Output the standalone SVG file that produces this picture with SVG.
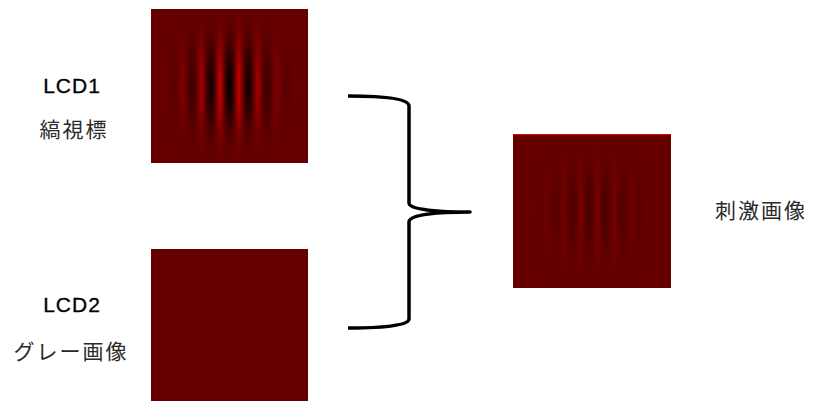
<svg xmlns="http://www.w3.org/2000/svg" width="813" height="401" viewBox="0 0 813 401">
<style>
.bg{fill:#660000}
.lat{font-family:"Liberation Sans",Arial,sans-serif;font-size:21px;fill:#000;text-anchor:middle;letter-spacing:1px;stroke:#000;stroke-width:0.3}
.jp{font-family:"Noto Sans CJK JP","Noto Sans",sans-serif;font-size:21px;fill:#2a2a2a;text-anchor:middle;letter-spacing:2px}
.brace{fill:none;stroke:#000;stroke-width:3.5;stroke-linecap:butt;stroke-linejoin:round}
</style>
<defs>
<linearGradient id="str1" gradientUnits="userSpaceOnUse" x1="229.5" y1="0" x2="248.5" y2="0" spreadMethod="repeat">
<stop offset="0" stop-color="#000000"/>
<stop offset="0.15" stop-color="#1e0000"/>
<stop offset="0.3" stop-color="#6a0000"/>
<stop offset="0.5" stop-color="#d00000"/>
<stop offset="0.7" stop-color="#6a0000"/>
<stop offset="0.85" stop-color="#1e0000"/>
<stop offset="1" stop-color="#000000"/>
</linearGradient>
<linearGradient id="str2" gradientUnits="userSpaceOnUse" x1="589" y1="0" x2="606" y2="0" spreadMethod="repeat">
<stop offset="0" stop-color="#460000"/>
<stop offset="0.25" stop-color="#580000"/>
<stop offset="0.5" stop-color="#800000"/>
<stop offset="0.75" stop-color="#580000"/>
<stop offset="1" stop-color="#460000"/>
</linearGradient>
<radialGradient id="env1" gradientUnits="userSpaceOnUse" cx="229.5" cy="86" r="72" gradientTransform="translate(229.5 86) scale(1 1.05) translate(-229.5 -86)">
<stop offset="0" stop-color="#fff" stop-opacity="1"/>
<stop offset="0.2" stop-color="#fff" stop-opacity="0.88"/>
<stop offset="0.4" stop-color="#fff" stop-opacity="0.6"/>
<stop offset="0.6" stop-color="#fff" stop-opacity="0.3"/>
<stop offset="0.8" stop-color="#fff" stop-opacity="0.1"/>
<stop offset="1" stop-color="#fff" stop-opacity="0"/>
</radialGradient>
<radialGradient id="env2" gradientUnits="userSpaceOnUse" cx="592" cy="211" r="72" gradientTransform="translate(592 211) scale(1 1.05) translate(-592 -211)">
<stop offset="0" stop-color="#fff" stop-opacity="1"/>
<stop offset="0.2" stop-color="#fff" stop-opacity="0.88"/>
<stop offset="0.4" stop-color="#fff" stop-opacity="0.6"/>
<stop offset="0.6" stop-color="#fff" stop-opacity="0.3"/>
<stop offset="0.8" stop-color="#fff" stop-opacity="0.1"/>
<stop offset="1" stop-color="#fff" stop-opacity="0"/>
</radialGradient>
<mask id="m1" maskUnits="userSpaceOnUse" x="151" y="9" width="157" height="154">
<rect x="151" y="9" width="157" height="154" fill="url(#env1)"/>
</mask>
<mask id="m2" maskUnits="userSpaceOnUse" x="513" y="134" width="158" height="154">
<rect x="513" y="134" width="158" height="154" fill="url(#env2)"/>
</mask>
</defs>
<g id="lcd1">
<rect class="bg" x="151" y="9" width="157" height="154"/>
<rect x="151" y="9" width="157" height="154" fill="url(#str1)" mask="url(#m1)"/>
<text class="lat" x="72" y="93">LCD1</text>
<text class="jp" x="74" y="137">縞視標</text>
</g>
<g id="lcd2">
<rect class="bg" x="151" y="249" width="157" height="152"/>
<text class="lat" x="72" y="312">LCD2</text>
<text class="jp" x="71" y="359">グレー画像</text>
</g>
<g id="stimulus">
<rect class="bg" x="513" y="134" width="158" height="154"/>
<rect x="513" y="134" width="158" height="154" fill="url(#str2)" mask="url(#m2)"/>
<line x1="513" y1="134.5" x2="671" y2="134.5" stroke="#dd0000" stroke-width="1"/>
<text class="jp" x="761" y="218">刺激画像</text>
</g>
<g id="connectors">
<path class="brace" d="M348,96 C380,96 409,98 409,106 L409,203 C409,210 440,212 470,212 C440,212 409,214 409,222 L409,319 C409,326 380,328 348,328"/>
</g>
</svg>
